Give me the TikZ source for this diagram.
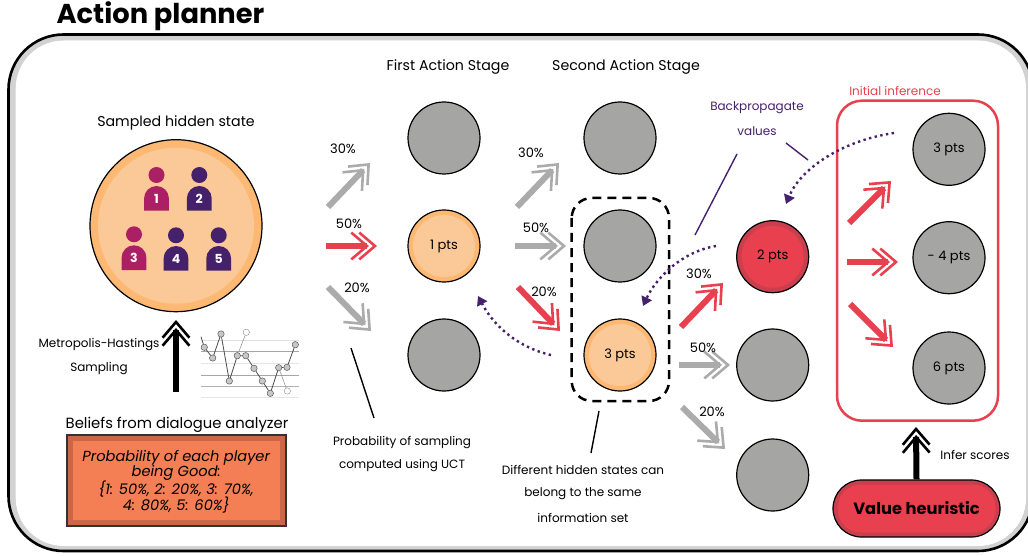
\documentclass[tikz,border=0pt]{standalone}
\usepackage{fontspec}
\setmainfont{Poppins}
\usetikzlibrary{arrows.meta,shapes.misc}
\definecolor{cred}{HTML}{E8404E}
\definecolor{cband}{HTML}{C93F4E}
\definecolor{cgray}{HTML}{A5A5A4}
\definecolor{cgrayarrow}{HTML}{ABABAB}
\definecolor{corg}{HTML}{FDB974}
\definecolor{corglight}{HTML}{FBC997}
\definecolor{cpurple}{HTML}{46216B}
\definecolor{cmag}{HTML}{AB2064}
\definecolor{cbox}{HTML}{F47F55}
\definecolor{cboxband}{HTML}{CB6748}
\definecolor{cframe}{HTML}{D2D2D2}
\newcommand{\fs}[1]{\fontsize{#1}{#1}\selectfont}
\newcommand{\lowr}[1]{\raisebox{-1.5pt}{#1}}
\pgfdeclarearrow{
  name=Chev,
  setup code={
    \pgfarrowssettipend{0pt}
    \pgfarrowssetbackend{-26pt}
    \pgfarrowssetvisualbackend{-10pt}
    \pgfarrowssetlineend{-10pt}
  },
  drawing code={
    \pgfsetlinewidth{2.6pt}
    \pgfsetmiterjoin
    \pgfsetbuttcap
    \pgfpathmoveto{\pgfpoint{-17.7pt}{13.4pt}}
    \pgfpathlineto{\pgfpoint{-2pt}{0pt}}
    \pgfpathlineto{\pgfpoint{-17.7pt}{-13.4pt}}
    \pgfpathmoveto{\pgfpoint{-25.7pt}{13.4pt}}
    \pgfpathlineto{\pgfpoint{-10pt}{0pt}}
    \pgfpathlineto{\pgfpoint{-25.7pt}{-13.4pt}}
    \pgfusepathqstroke
  }
}
\tikzset{
  x=1pt,y=-1pt,
  lbl/.style={inner sep=0pt,yshift=-1.5pt,font=\fs{14.2}},
  small/.style={inner sep=0pt,yshift=-1.5pt,font=\fs{12}},
  pct/.style={inner sep=0pt,yshift=-1pt,font=\fs{13}},
  bigarrow/.style={line width=6pt,-{Chev}},
  redarrow/.style={bigarrow,draw=cred},
  grayarrow/.style={bigarrow,draw=cgrayarrow},
  blackarrow/.style={bigarrow,draw=black},
  state/.style={circle,draw=black,line width=1.2pt,fill=cgray,minimum size=72pt,inner sep=0pt,font=\fs{13}},
  orangestate/.style={state,fill=corg,path picture={\fill[corglight] (path picture bounding box.center) circle (31pt);}},
  redstate/.style={state,fill=cband,path picture={\fill[cred] (path picture bounding box.center) circle (31pt);}},
  backarrow/.style={draw=cpurple,line width=2.4pt,dash pattern=on 2.4pt off 3.4pt,-{Triangle[length=9pt,width=11pt,fill=cpurple]}},
  leader/.style={draw=black,line width=1.4pt},
  pleader/.style={draw=cpurple,line width=1.4pt},
  grid/.style={line width=0.7pt,draw=#1},
  pt/.style={circle,draw=black!65,line width=0.5pt,fill=black!22,minimum size=6.4pt,inner sep=0pt},
  ptopen/.style={circle,draw=black!45,line width=0.4pt,fill=white,minimum size=6.4pt,inner sep=0pt},
  pnum/.style={inner sep=0pt,text=white,font=\bfseries\fs{12.5}},
}
\newcommand{\person}[5]{% name, x, head y, body top y, colour
  \fill[#5] (#2,#3) circle (8pt);
  \fill[#5] (#2-12.4,#4+24.7) -- (#2-12.4,#4+12.4) arc[start angle=180,end angle=0,radius=12.4pt] -- (#2+12.4,#4+24.7) -- cycle;
  \node[pnum] (#1) at (#2,#4+13) {\ifcase#1\or 1\or 2\or 3\or 4\or 5\fi};
}
\begin{document}
\begin{tikzpicture}
\useasboundingbox (0,0) rectangle (1028,556);
\clip (0,0) rectangle (1028,556);
% frame
\node[inner sep=0pt,font=\bfseries\fs{27.3}] (title) at (160.5,16) {Action planner};
\fill[cframe,draw=black,line width=2.6pt,rounded corners=55pt] (8.5,34.5) rectangle (1033,551);
\fill[white,rounded corners=48pt] (15.7,40.5) rectangle (1026,546);
% left column
\node[lbl] (sampled) at (176,121) {Sampled hidden state};
\node[circle,draw=black,line width=1.2pt,fill=corg,minimum size=172pt,inner sep=0pt,
      path picture={\fill[corglight] (path picture bounding box.center) circle (78pt);}] (hidden) at (176,225.7) {};
\person{1}{156.5}{175}{186}{cmag}
\person{2}{199.3}{175}{186}{cpurple}
\person{3}{134}{234.3}{245.3}{cmag}
\person{4}{176}{235.3}{246}{cpurple}
\person{5}{218.7}{235.3}{246}{cpurple}
\coordinate (mhs) at (176,391.7);
\coordinate (mhe) at (176,320);
\draw[blackarrow] (mhs) -- (mhe);
\node[small] (mh1) at (99,343) {Metropolis-Hastings};
\node[small] (mh2) at (99,367) {Sampling};
% sampling chart
\foreach \yy/\cc in {340.7/black!12,351.7/black!35,375/black!35,386.7/black!30,397.3/black!10}
  \draw[grid=\cc] (201,\yy) -- (299,\yy);
\draw[grid=black!10,line width=1.6pt] (201,363.3) -- (299,363.3);
\node[ptopen] (o1) at (246.3,332.3) {};
\node[ptopen] (o2) at (287.3,391) {};
\node[pt] (p1) at (204.3,347.3) {};
\node[pt] (p2) at (212.7,358) {};
\node[pt] (p3) at (221,334) {};
\node[pt] (p4) at (229.3,381) {};
\node[pt] (p5) at (237.3,355.7) {};
\node[pt] (p6) at (245.7,355.7) {};
\node[pt] (p7) at (254,368.3) {};
\node[pt] (p8) at (262.3,381) {};
\node[pt] (p9) at (270.3,393.3) {};
\node[pt] (p10) at (278.7,367.7) {};
\node[pt] (p11) at (287,367.3) {};
\node[pt] (p12) at (295.3,344.7) {};
\coordinate (p0) at (201,336.7);
\draw[black!70,line width=0.8pt] (p0) -- (p1) -- (p2) -- (p3) -- (p4) -- (p5) -- (p6) -- (p7) -- (p8) -- (p9) -- (p10) -- (p11) -- (p12);
\draw[black!45,line width=0.5pt] (p5) -- (o1);
\draw[black!45,line width=0.5pt] (p10) -- (o2);
% beliefs
\node[inner sep=0pt,yshift=-1.5pt,font=\fs{14.8}] (beliefs) at (177,423) {Beliefs from dialogue analyzer};
\node[draw=black!80,line width=1.6pt,fill=cboxband,minimum width=219pt,minimum height=91pt,inner sep=0pt,
      path picture={\fill[cbox] ([xshift=6pt,yshift=-6pt]path picture bounding box.north west) rectangle ([xshift=-6pt,yshift=6pt]path picture bounding box.south east);}] (box) at (176.2,480.5) {};
\node[inner sep=0pt,align=center,font=\itshape\fs{14.6}] (boxtext) at (176.2,482) {\fontsize{14.6}{15.9}\selectfont Probability of each player\\[-0.8pt]being Good:\\[-0.8pt]\{1: 50\%, 2: 20\%, 3: 70\%,\\[-0.8pt]4: 80\%, 5: 60\%\}};
% stage headers
\node[lbl] (h1) at (448,66) {First Action Stage};
\node[lbl] (h2) at (626,66) {Second Action Stage};
% states
\node[state] (a1) at (444,138) {};
\node[orangestate] (a2) at (444,246) {\lowr{1 pts}};
\node[state] (a3) at (444,355) {};
\node[state] (b1) at (620,138) {};
\node[state] (b2) at (620,246) {};
\node[orangestate] (b3) at (620,355) {\lowr{3 pts}};
\node[redstate] (c1) at (772.7,256.7) {\lowr{2 pts}};
\node[state] (c2) at (772.7,365) {};
\node[state] (c3) at (772.7,475) {};
\node[state] (d1) at (949,149.3) {\lowr{3 pts}};
\node[state] (d2) at (949,257.7) {\lowr{- 4 pts}};
\node[state] (d3) at (949,368) {\lowr{6 pts}};
% stage arrows
\coordinate (s1) at (328,207); \coordinate (e1) at (370,163);
\coordinate (s2) at (325.7,246); \coordinate (e2) at (377,246);
\coordinate (s3) at (328,287); \coordinate (e3) at (371,331);
\coordinate (s4) at (517,207); \coordinate (e4) at (559,163);
\coordinate (s5) at (515,246); \coordinate (e5) at (566,246);
\coordinate (s6) at (518,287); \coordinate (e6) at (560,331);
\coordinate (s7) at (681,327); \coordinate (e7) at (723,283);
\coordinate (s8) at (679,365); \coordinate (e8) at (730,365);
\coordinate (s9) at (682,407); \coordinate (e9) at (725,449);
\coordinate (s10) at (849,223); \coordinate (e10) at (891,181);
\coordinate (s11) at (847,262); \coordinate (e11) at (898,262);
\coordinate (s12) at (850,304); \coordinate (e12) at (893,347);
\draw[grayarrow] (s1) -- (e1);
\draw[redarrow] (s2) -- (e2);
\draw[grayarrow] (s3) -- (e3);
\draw[grayarrow] (s4) -- (e4);
\draw[grayarrow] (s5) -- (e5);
\draw[redarrow] (s6) -- (e6);
\draw[redarrow] (s7) -- (e7);
\draw[grayarrow] (s8) -- (e8);
\draw[grayarrow] (s9) -- (e9);
\draw[redarrow] (s10) -- (e10);
\draw[redarrow] (s11) -- (e11);
\draw[redarrow] (s12) -- (e12);
% percentages
\node[pct] (l1) at (343,148) {30\%};
\node[pct] (l2) at (349,223) {50\%};
\node[pct] (l3) at (357,287) {20\%};
\node[pct] (l4) at (531,152) {30\%};
\node[pct] (l5) at (536,227) {50\%};
\node[pct] (l6) at (544,291) {20\%};
\node[pct] (l7) at (699,273) {30\%};
\node[pct] (l8) at (703,347) {50\%};
\node[pct] (l9) at (712,411) {20\%};
% information set
\draw[black,line width=2.5pt,dash pattern=on 9pt off 6pt,rounded corners=20pt] (571.7,198) rectangle (669,401);
\coordinate (u1) at (351,348); \coordinate (u2) at (374,418);
\draw[leader] (u1) -- (u2);
\coordinate (i1) at (599,411); \coordinate (i2) at (591,453);
\draw[leader] (i1) -- (i2);
\node[small] (t1) at (402,441) {Probability of sampling};
\node[small] (t2) at (402,464) {computed using UCT};
\node[small] (t3) at (583,468) {Different hidden states can};
\node[small] (t4) at (583,492) {belong to the same};
\node[small] (t5) at (583,516) {information set};
% initial inference
\draw[cred,line width=2.5pt,rounded corners=25pt] (837,100.7) rectangle (998,420.7);
\node[small,text=cred] (init) at (895,89) {Initial inference};
% backprop
\node[small,text=cpurple] (bp1) at (757,106) {Backpropagate};
\node[small,text=cpurple] (bp2) at (757,130) {values};
\coordinate (q1) at (737,154); \coordinate (q2) at (695,235);
\coordinate (q3) at (786,143); \coordinate (q4) at (808,160);
\draw[pleader] (q1) -- (q2);
\draw[pleader] (q3) -- (q4);
\coordinate (ba) at (894,133); \coordinate (bb) at (786,204);
\coordinate (bc) at (716,246); \coordinate (bd) at (643,306);
\coordinate (be) at (551,355); \coordinate (bf) at (478,296);
\draw[backarrow] (ba) .. controls (840,141) and (800,170) .. (bb);
\draw[backarrow] (bc) .. controls (680,252) and (655,280) .. (bd);
\draw[backarrow] (be) .. controls (520,348) and (495,328) .. (bf);
% value heuristic
\node[rounded rectangle,draw=black,line width=1.2pt,fill=cband,minimum width=167pt,minimum height=57pt,inner sep=0pt,
      path picture={\fill[cred,rounded corners=23.5pt] ([xshift=4.5pt,yshift=-4.5pt]path picture bounding box.north west) rectangle ([xshift=-4.5pt,yshift=4.5pt]path picture bounding box.south east);},
      font=\bfseries\fs{16.3}] (value) at (916.5,508.5) {\lowr{Value heuristic}};
\coordinate (ve) at (916,427);
\draw[blackarrow] (value.north) -- (ve);
\node[small] (infer) at (975,453) {Infer scores};
\end{tikzpicture}
\end{document}
